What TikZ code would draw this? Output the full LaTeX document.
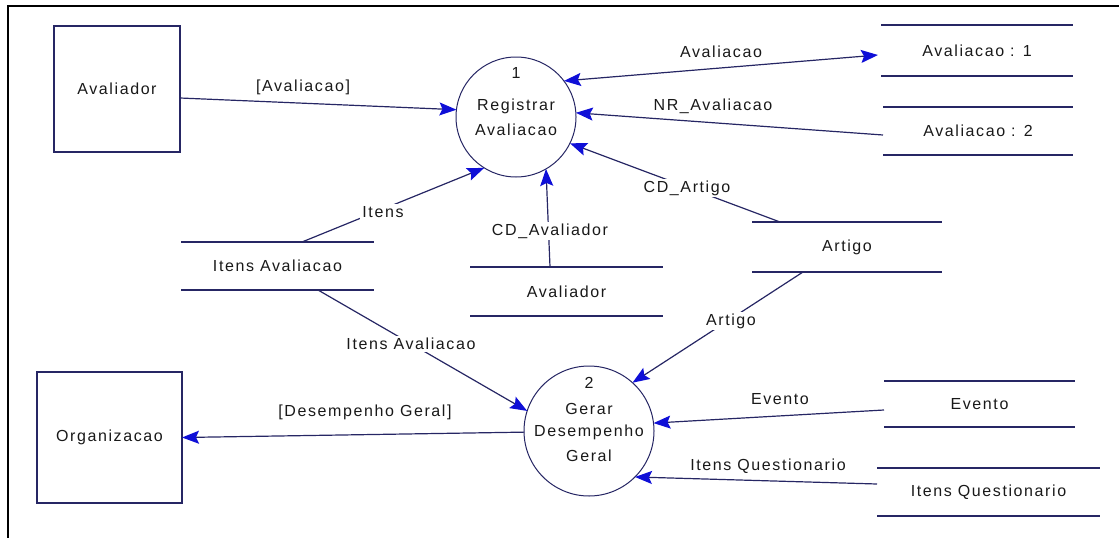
\documentclass[tikz,border=0pt]{standalone}
\usepackage{fontspec}
\setmainfont{Liberation Sans}[LetterSpace=10]
\usetikzlibrary{arrows.meta,calc}
\definecolor{navy}{RGB}{38,38,100}
\definecolor{tipblue}{RGB}{15,15,215}
\tikzset{
  txt/.style={font=\fontsize{16}{19}\selectfont, inner sep=1pt, text=black!90},
  lbl/.style={txt, fill=white, inner sep=2pt},
  ent/.style={txt, draw=navy, line width=1.4pt, fill=white, inner sep=0pt, outer sep=0pt},
  proc/.style={circle, draw=navy, line width=1pt, fill=white, inner sep=0pt, outer sep=0pt},
  store/.style={txt, inner sep=0pt, outer sep=0pt},
  storeline/.style={draw=navy, line width=1.5pt},
  flow/.style={draw=navy, line width=1.2pt,
    -{Stealth[tipblue, length=17pt, width=13pt, inset=3pt]}},
  flow2/.style={draw=navy, line width=1.2pt,
    {Stealth[tipblue, length=17pt, width=13pt, inset=3pt]}-{Stealth[tipblue, length=17pt, width=13pt, inset=3pt]}}
}
\begin{document}
\begin{tikzpicture}[x=1pt, y=-1pt]
  \useasboundingbox (0,0) rectangle (1119,538);
  % page frame
  \draw[line width=2pt] (8,538) -- (8,6) -- (1119,6);

  % external entities
  \node[ent, minimum width=126pt, minimum height=126pt] (ext1) at (117,89) {Avaliador};
  \node[ent, minimum width=145pt, minimum height=131pt] (ext2) at (109.5,437.5) {Organizacao};

  % processes
  \node[proc, minimum size=120pt] (p1) at (516,117) {};
  \node[txt] (p1n) at (516,73) {1};
  \node[txt] (p1a) at (516,106) {Registrar};
  \node[txt] (p1b) at (516,130) {Avaliacao};

  \node[proc, minimum size=130pt] (p2) at (589,431) {};
  \node[txt] (p2n) at (589,383) {2};
  \node[txt] (p2a) at (589,409) {Gerar};
  \node[txt] (p2b) at (589,432) {Desempenho};
  \node[txt] (p2c) at (589,456) {Geral};

  % data stores
  \node[store, minimum width=192pt, minimum height=51pt] (s1) at (977,50.5) {Avaliacao : 1};
  \node[store, minimum width=190pt, minimum height=48pt] (s2) at (978,131) {Avaliacao : 2};
  \node[store, minimum width=190pt, minimum height=50pt] (s3) at (847,247) {Artigo};
  \node[store, minimum width=193pt, minimum height=49pt] (s4) at (566.5,291.5) {Avaliador};
  \node[store, minimum width=193pt, minimum height=48pt] (s5) at (277.5,266) {Itens Avaliacao};
  \node[store, minimum width=191pt, minimum height=46pt] (s6) at (979.5,404) {Evento};
  \node[store, minimum width=223pt, minimum height=48pt] (s7) at (988.5,492) {Itens Questionario};
  \foreach \s in {s1,s2,s3,s4,s5,s6,s7}{
    \draw[storeline] (\s.north west) -- (\s.north east);
    \draw[storeline] (\s.south west) -- (\s.south east);
  }

  % flow end points on the stores and entities
  \coordinate (a1) at ($(ext1.east)+(0,9)$);
  \coordinate (a2) at ($(s1.west)+(-3,4.5)$);
  \coordinate (a3) at ($(s2.west)+(0,4)$);
  \coordinate (a4) at ($(s3.north west)+(28,0)$);
  \coordinate (a5) at ($(s5.north west)+(121,0)$);
  \coordinate (a6) at ($(s4.north west)+(80,0)$);
  \coordinate (a7) at ($(s5.south west)+(137,0)$);
  \coordinate (a8) at ($(s3.south west)+(51,0)$);
  \coordinate (a10) at ($(s6.west)+(0,6)$);
  \coordinate (a11) at ($(s7.west)+(0,-8)$);

  % data flows
  \draw[flow] (a1) -- (p1.173.5);
  \draw[flow2] (p1.37) -- (a2);
  \draw[flow] (a3) -- (p1.4);
  \draw[flow] (a4) -- (p1.-26);
  \draw[flow] (a5) -- (p1.238);
  \draw[flow] (a6) -- (p1.-60);
  \draw[flow] (a7) -- (p2.162);
  \draw[flow] (a8) -- (p2.48);
  \draw[flow] (p2.181) -- (ext2.east);
  \draw[flow] (a10) -- (p2.7);
  \draw[flow] (a11) -- (p2.-45);

  % flow labels
  \node[txt] (l1) at (303,87) {[Avaliacao]};
  \node[txt] (l2) at (721,52) {Avaliacao};
  \node[txt] (l3) at (713,106) {NR\_Avaliacao};
  \node[lbl] (l4) at (687,188) {CD\_Artigo};
  \node[lbl] (l5) at (383,212) {Itens};
  \node[lbl] (l6) at (550,231) {CD\_Avaliador};
  \node[lbl] (l7) at (411,344) {Itens Avaliacao};
  \node[lbl] (l8) at (731,321) {Artigo};
  \node[txt] (l9) at (365,412) {[Desempenho Geral]};
  \node[txt] (l10) at (780,399) {Evento};
  \node[txt] (l11) at (768,466) {Itens Questionario};
\end{tikzpicture}
\end{document}
